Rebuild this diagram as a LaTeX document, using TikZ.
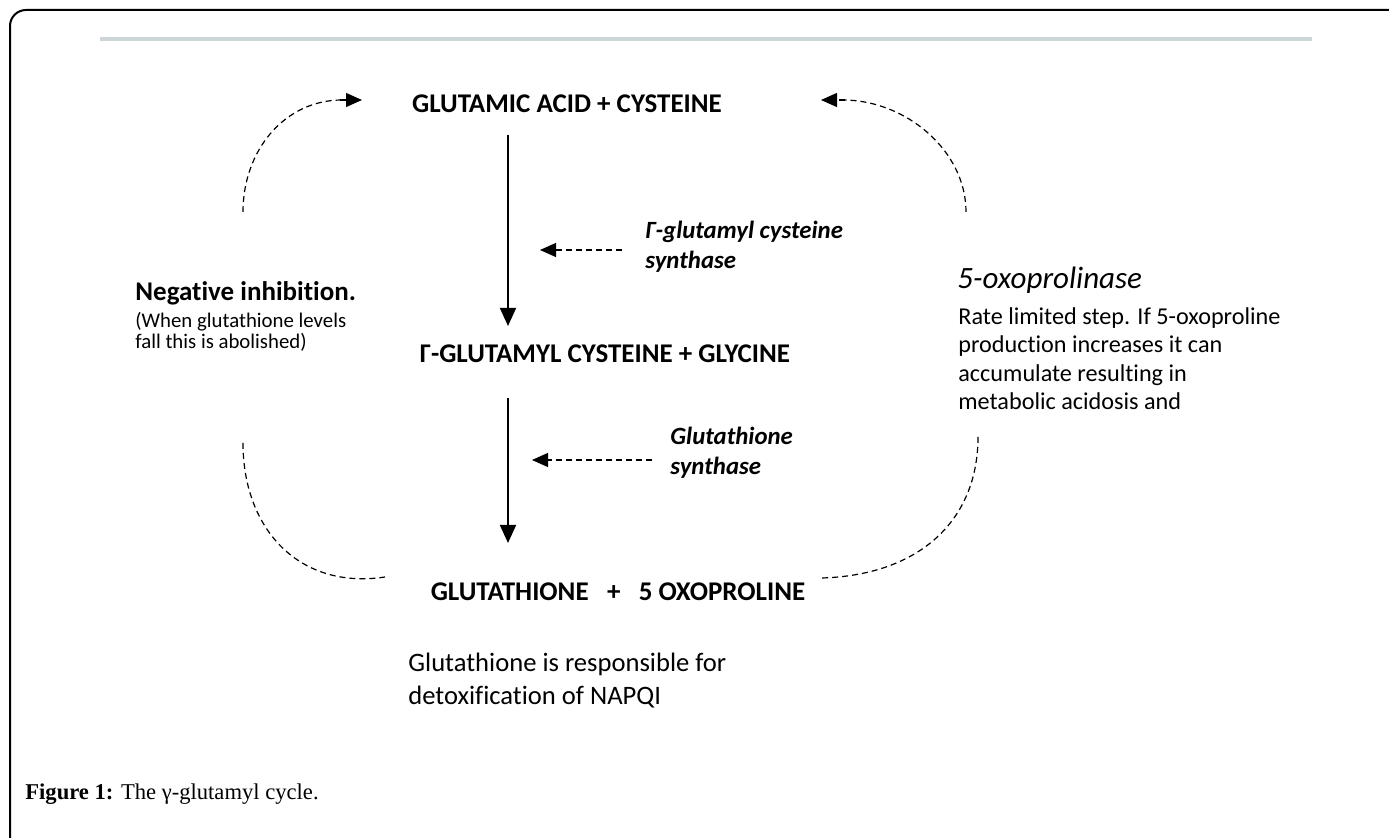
\documentclass[tikz,border=0pt]{standalone}
\usepackage{fontspec}
\setmainfont[Ligatures=NoCommon]{Carlito}
\newfontfamily\capfont{Liberation Serif}
\usetikzlibrary{arrows.meta}
\definecolor{rulegray}{HTML}{CCD6D6}
\tikzset{
  mainlbl/.style={font=\fontsize{13.5}{15}\selectfont\bfseries, inner sep=0pt},
  enzlbl/.style={font=\fontsize{12.4}{15}\selectfont\bfseries\itshape, inner sep=0pt, align=left, anchor=north west},
  note/.style={inner sep=0pt, anchor=north west, align=left},
  solidarrow/.style={line width=0.9pt, -{Triangle[length=9pt,width=8pt]}},
  dasharrow/.style={line width=0.6pt, dash pattern=on 3pt off 2pt, -{Triangle[length=8pt,width=7pt]}},
  dashcurve/.style={line width=0.6pt, dash pattern=on 3pt off 2pt},
}
\begin{document}
\begin{tikzpicture}[x=0.5pt,y=-0.5pt]
\useasboundingbox (0,0) rectangle (1389,838);
% frame and rule
\draw[line width=1pt, rounded corners=8] (10,850) -- (10,10) -- (1400,10);
\draw[rulegray, line width=1.6pt] (100,39) -- (1312,39);

% main compounds
\node[mainlbl] (A) at (567,104) {GLUTAMIC ACID + CYSTEINE};
\node[mainlbl] (B) at (605,354) {Γ-GLUTAMYL CYSTEINE + GLYCINE};
\node[mainlbl] (C) at (618,592) {GLUTATHIONE \ \ +\ \ \ 5 OXOPROLINE};

% enzymes
\node[enzlbl] (E1) at (645,221) {Γ-glutamyl cysteine\\synthase};
\node[enzlbl] (E2) at (670,427) {Glutathione\\synthase};

% side notes
\node[note, font=\fontsize{13.5}{15}\selectfont\bfseries] (N) at (135,281) {Negative inhibition.};
\node[note, font=\fontsize{10.4}{10.5}\selectfont] (N2) at (135,312) {(When glutathione levels\\fall this is abolished)};
\node[note, font=\fontsize{15.5}{16}\selectfont\itshape] (O) at (957,267) {5-oxoprolinase};
\node[note, font=\fontsize{12.1}{14.3}\selectfont] (R) at (958,307)
  {Rate limited step. If 5-oxoproline\\production increases it can\\accumulate resulting in\\metabolic acidosis and};
\node[note, font=\fontsize{13.3}{16.5}\selectfont] (G) at (408,653)
  {Glutathione is responsible for\\detoxification of NAPQI};

% caption
\node[inner sep=0pt, anchor=base west, font=\capfont\fontsize{11.3}{12}\selectfont] (cap) at (25,800)
  {\textbf{Figure 1:} The γ-glutamyl cycle.};

% vertical arrows
\coordinate (a1s) at (508,135);
\coordinate (a1e) at (508,326);
\coordinate (a2s) at (508,398);
\coordinate (a2e) at (508,543);
\draw[solidarrow] (a1s) -- (a1e);
\draw[solidarrow] (a2s) -- (a2e);

% enzyme arrows
\coordinate (e1s) at (622,250);
\coordinate (e1e) at (540,250);
\coordinate (e2s) at (652,460);
\coordinate (e2e) at (532,460);
\draw[dasharrow] (e1s) -- (e1e);
\draw[dasharrow] (e2s) -- (e2e);

% cycle curves
\coordinate (tl1) at (243,212);
\coordinate (tl2) at (362,100);
\draw[dashcurve] (tl1) .. controls (243,150) and (285,100) .. (342,100);
\draw[dasharrow] (340,100) -- (tl2);

\coordinate (tr1) at (966,212);
\coordinate (tr2) at (821,100);
\draw[dashcurve] (tr1) .. controls (966,150) and (905,100) .. (843,100);
\draw[dasharrow] (845,100) -- (tr2);

\coordinate (bl1) at (243,443);
\coordinate (bl2) at (385,577);
\draw[dashcurve] (bl1) .. controls (243,530) and (300,590) .. (bl2);

\coordinate (br1) at (978,437);
\coordinate (br2) at (822,578);
\draw[dashcurve] (br1) .. controls (978,520) and (920,575) .. (br2);
\end{tikzpicture}
\end{document}
